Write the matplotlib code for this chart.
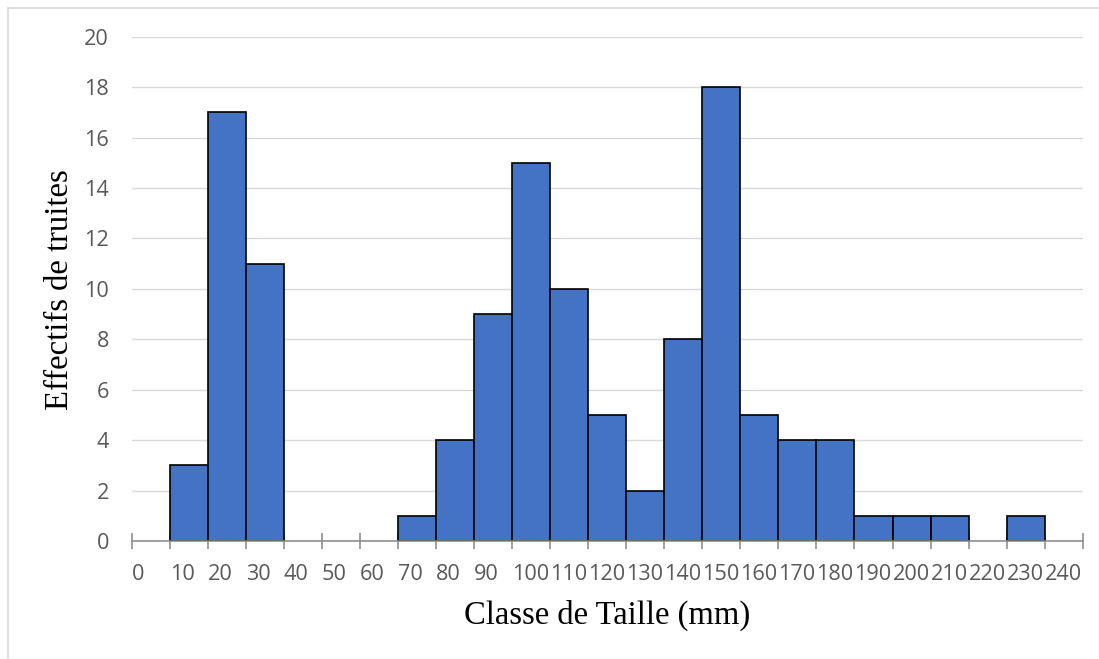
import matplotlib
matplotlib.use("Agg")
import matplotlib.pyplot as plt
import numpy as np
from matplotlib.lines import Line2D

# Data
categories = [0, 10, 20, 30, 40, 50, 60, 70, 80, 90, 100, 110, 120, 130, 140, 150,
              160, 170, 180, 190, 200, 210, 220, 230, 240]
counts = [0, 3, 17, 11, 0, 0, 0, 1, 4, 9, 15, 10, 5, 2, 8, 18,
          5, 4, 4, 1, 1, 1, 0, 1, 0]
xlabel = "Classe de Taille (mm)"
ylabel = "Effectifs de truites"
yticks = [0, 2, 4, 6, 8, 10, 12, 14, 16, 18, 20]

W, H = 1099, 659
fig = plt.figure(figsize=(W / 100, H / 100), dpi=100)
left, right = 131.7 / W, 1082.7 / W
bottom, top = (H - 541) / H, (H - 36.7) / H
ax = fig.add_axes([left, bottom, right - left, top - bottom])

cats = np.array(categories, dtype=float)
vals = np.array(counts, dtype=float)
width = 10
mask = vals > 0
ax.bar(cats[mask], vals[mask], width=width, align='edge', color='#4472C4',
       edgecolor='black', linewidth=1.2, zorder=3)

ax.set_xlim(0, categories[-1] + width)
ax.set_ylim(0, 20)

# x ticks at category boundaries, labels left-aligned to their category
edges = list(categories) + [categories[-1] + width]
ax.set_xticks(edges)
ax.set_xticklabels([str(c) for c in categories] + [''], fontfamily='Open Sans',
                   fontsize=15.6, color='#595959', ha='left')
ax.tick_params(axis='x', direction='inout', length=11, width=1.1,
               color='#868686', pad=11)
ax.set_yticks(yticks)
ax.set_yticklabels([str(v) for v in yticks], fontfamily='Open Sans',
                   fontsize=15.6, color='#595959')
ax.tick_params(axis='y', length=0, pad=16.3)

ax.grid(axis='y', color='#D9D9D9', linewidth=1.0, zorder=0)
ax.set_axisbelow(True)
for s in ['top', 'right', 'left']:
    ax.spines[s].set_visible(False)
ax.spines['bottom'].set_color('#868686')
ax.spines['bottom'].set_linewidth(1.1)
ax.spines['bottom'].set_zorder(4)

fig.text(607.2 / W, 35.7 / H, xlabel, fontfamily='Liberation Serif', fontsize=23.5,
         ha='center', va='baseline', color='black')
fig.text(68.3 / W, (H - 289.5) / H, ylabel, fontfamily='Liberation Serif',
         fontsize=23.5, rotation=90, rotation_mode='anchor',
         ha='center', va='baseline', color='black')

# chart border (left and top visible)
fig.add_artist(Line2D([7.5 / W, 7.5 / W], [0, (H - 7.5) / H], transform=fig.transFigure,
                      color='#D9D9D9', linewidth=1.2))
fig.add_artist(Line2D([7.5 / W, 1], [(H - 7.5) / H, (H - 7.5) / H], transform=fig.transFigure,
                      color='#D9D9D9', linewidth=1.2))

fig.savefig("out.png", dpi=100)
